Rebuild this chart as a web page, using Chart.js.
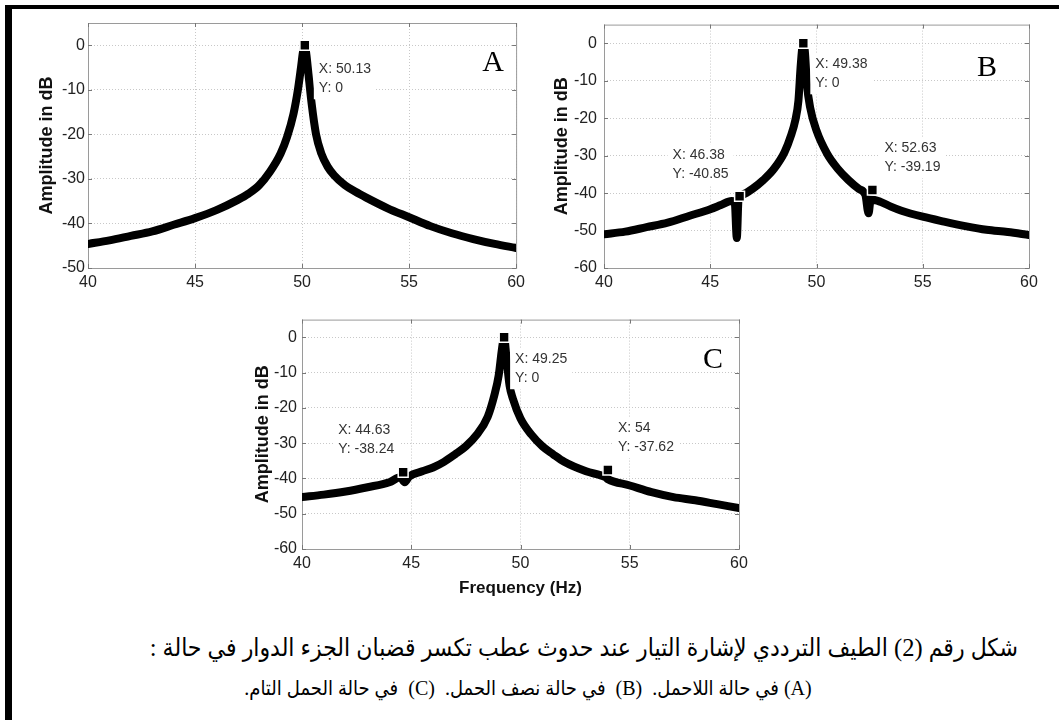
<!DOCTYPE html>
<html>
<head>
<meta charset="utf-8">
<script src="https://cdn.jsdelivr.net/npm/chart.js@4.4.0/dist/chart.umd.min.js"></script>
<style>
  body { margin: 0; background: #fff; width: 1059px; height: 720px; position: relative; overflow: hidden; }
  .frame { position: absolute; left: 5px; top: 5px; right: 0; bottom: 0; border-left: 7px solid #000; border-top: 4px solid #000; }
  canvas { position: absolute; }
  .cap { position: absolute; font-family: 'Liberation Serif', 'DejaVu Sans Condensed', 'DejaVu Sans', serif; direction: rtl; white-space: nowrap; color: #000; line-height: 30px; }
</style>
</head>
<body>
<div class="frame"></div>
<canvas id="chartA" width="512" height="300" style="left:18px;top:8px"></canvas>
<canvas id="chartB" width="515" height="300" style="left:534px;top:8px"></canvas>
<canvas id="chartC" width="522" height="300" style="left:232px;top:305px"></canvas>
<div class="cap" style="right:41px;top:633px;font-size:24.5px">شكل رقم (2) الطيف الترددي لإشارة التيار عند حدوث عطب تكسر قضبان الجزء الدوار في حالة :</div>
<div class="cap" style="left:0;width:1056px;text-align:center;top:673px;font-size:20px">(A) في حالة اللاحمل.&nbsp; (B)&nbsp; في حالة نصف الحمل.&nbsp; (C)&nbsp; في حالة الحمل التام.</div>

<script>
// shared axis ticks
const xTicks = [40, 45, 50, 55, 60];
const yTicksA = [0, -10, -20, -30, -40, -50];
const yTicksBC = [0, -10, -20, -30, -40, -50, -60];

// A : no load
const freqA = [40, 41, 42, 43, 44, 45, 46, 47, 47.5, 48, 48.5, 49, 49.3, 49.6, 49.8, 49.95, 50.05, 50.13, 50.2, 50.3, 50.45, 50.65, 50.9, 51.2, 51.5, 52, 52.5, 53, 54, 55, 56, 57, 58, 59, 60];
const ampA = [-44.6, -43.8, -42.8, -41.8, -40.3, -38.8, -37.0, -34.7, -33.3, -31.4, -28.4, -24.3, -20.6, -15.4, -10.2, -5, -1.3, 0, -2, -6.5, -13.2, -19.9, -24.3, -27.3, -29.2, -31.4, -32.9, -34.2, -36.6, -38.6, -40.6, -42.2, -43.5, -44.6, -45.5];
const tipFreqA = [50.13];
const tipAmpA = [0];

// B : half load
const freqB = [40, 41, 42, 43, 44, 45, 45.5, 46, 46.15, 46.25, 46.33, 46.5, 47, 47.5, 48, 48.5, 48.8, 49, 49.15, 49.25, 49.33, 49.38, 49.45, 49.55, 49.7, 50, 50.5, 51, 51.5, 52, 52.3, 52.45, 52.55, 53, 53.5, 54, 55, 56, 57, 58, 59, 60];
const ampB = [-51, -50.3, -49.1, -47.9, -46.1, -44.3, -43.2, -42.1, -42.3, -52, -41.9, -40.5, -38.8, -36.5, -33.5, -29, -24.6, -20.6, -15.3, -6.5, -1.2, 0, -2, -10.9, -17.1, -23.3, -29.5, -33.5, -36.5, -38.9, -40.5, -45.4, -41.7, -42.3, -43.6, -44.7, -46.3, -47.6, -48.8, -49.8, -50.4, -51.2];
const tipFreqB = [49.38, 46.38, 52.63];
const tipAmpB = [0, -40.85, -39.19];

// C : full load
const freqC = [40, 41, 42, 43, 44, 44.5, 44.7, 44.9, 45.5, 46, 46.5, 47, 47.5, 48, 48.5, 48.8, 49, 49.15, 49.25, 49.35, 49.5, 49.65, 50, 50.5, 51, 51.5, 52, 53, 53.9, 54, 55, 56, 57, 58, 59, 60];
const ampC = [-45.3, -44.6, -43.7, -42.5, -41.1, -39.7, -41.1, -39.5, -38, -36.9, -35.3, -33.2, -30.9, -27.6, -22.5, -16.5, -10.9, -3.4, 0, -5.3, -13.7, -17.4, -23, -27.6, -30.9, -33.2, -35.3, -38, -39.7, -40.2, -42, -43.9, -45.3, -46.2, -47.3, -48.4];
const tipFreqC = [49.25, 44.63, 54];
const tipAmpC = [0, -38.24, -37.62];

const sans = "'Liberation Sans', Arial, sans-serif";

// box, inward ticks, data tips and panel letter
const panelPlugin = {
  id: 'panel',
  beforeDatasetsDraw(chart) {
    const { ctx, chartArea: a, scales } = chart;
    ctx.save();
    ctx.strokeStyle = '#9a9a9a';
    ctx.lineWidth = 1;
    ctx.strokeRect(a.left + 0.5, a.top + 0.5, a.right - a.left, a.bottom - a.top);
    ctx.strokeStyle = '#777';
    ctx.beginPath();
    scales.x.ticks.forEach(t => {
      const px = Math.round(scales.x.getPixelForValue(t.value)) + 0.5;
      ctx.moveTo(px, a.bottom); ctx.lineTo(px, a.bottom - 4);
      ctx.moveTo(px, a.top); ctx.lineTo(px, a.top + 4);
    });
    scales.y.ticks.forEach(t => {
      const py = Math.round(scales.y.getPixelForValue(t.value)) + 0.5;
      ctx.moveTo(a.left, py); ctx.lineTo(a.left + 4, py);
      ctx.moveTo(a.right, py); ctx.lineTo(a.right - 4, py);
    });
    ctx.stroke();
    ctx.restore();
  },
  afterDraw(chart, args, opts) {
    const { ctx, chartArea: a } = chart;
    const meta = chart.getDatasetMeta(0);
    const pts = chart.data.datasets[0].data;
    ctx.save();
    ctx.font = "14px " + sans;
    ctx.textBaseline = 'middle';
    ctx.textAlign = 'left';
    meta.data.forEach((el, i) => {
      const [dx, dy] = opts.tips[i];
      const l1 = 'X: ' + pts[i].x, l2 = 'Y: ' + pts[i].y;
      const tx = el.x + dx, ty = el.y + dy;
      const w = Math.max(ctx.measureText(l1).width, ctx.measureText(l2).width);
      ctx.fillStyle = '#fff';
      ctx.fillRect(tx - 5, ty - 11, w + 10, 41);
      ctx.fillStyle = '#333';
      ctx.fillText(l1, tx, ty);
      ctx.fillText(l2, tx, ty + 19);
    });
    ctx.font = "30px 'Liberation Serif', 'Times New Roman', serif";
    ctx.fillStyle = '#000';
    ctx.textAlign = 'center';
    ctx.textBaseline = 'alphabetic';
    ctx.fillText(opts.letter, a.right + opts.letterDx, a.top + opts.letterDy);
    ctx.restore();
  }
};

function makeChart(id, o) {
  return new Chart(document.getElementById(id), {
    type: 'scatter',
    data: {
      datasets: [
        {
          data: o.tipX.map((x, i) => ({ x: x, y: o.tipY[i] })),
          pointStyle: 'rect',
          pointRadius: 7,
          pointHoverRadius: 7,
          pointBackgroundColor: '#000',
          pointBorderColor: '#fff',
          pointBorderWidth: 1.5,
          showLine: false
        },
        {
          data: o.freq.map((x, i) => ({ x: x, y: o.amp[i] })),
          showLine: true,
          borderColor: '#000',
          borderWidth: 8,
          pointRadius: 0,
          cubicInterpolationMode: 'monotone',
          borderJoinStyle: 'round',
          borderCapStyle: 'round'
        }
      ]
    },
    options: {
      responsive: false,
      animation: false,
      devicePixelRatio: 1,
      events: [],
      layout: { padding: { top: o.padTop, right: o.padRight, left: 0, bottom: 0 } },
      plugins: {
        legend: { display: false },
        tooltip: { enabled: false },
        panel: { letter: o.letter, letterDx: o.letterDx, letterDy: o.letterDy, tips: o.tips }
      },
      scales: {
        x: {
          type: 'linear', min: 40, max: 60,
          afterBuildTicks: s => { s.ticks = xTicks.map(v => ({ value: v })); },
          afterFit: s => { s.height = o.xHeight; },
          grid: { color: '#c8c8c8', drawTicks: false },
          border: { display: false, dash: [1, 2] },
          ticks: { padding: 5, color: '#222', maxRotation: 0, font: { family: sans, size: 16 } },
          title: o.xTitle
            ? { display: true, text: o.xTitle, color: '#111', font: { family: sans, size: 17, weight: 'bold' }, padding: { top: 0, bottom: 6 } }
            : { display: false }
        },
        y: {
          type: 'linear', min: o.yTicks[o.yTicks.length - 1], max: 5,
          afterBuildTicks: s => { s.ticks = o.yTicks.map(v => ({ value: v })); },
          afterFit: s => { s.width = 70; },
          grid: { color: '#c8c8c8', drawTicks: false },
          border: { display: false, dash: [1, 2] },
          ticks: { padding: o.yPad, color: '#222', font: { family: sans, size: 16 } },
          title: { display: true, text: 'Amplitude in dB', color: '#111', font: { family: sans, size: 18, weight: 'bold' }, padding: { top: o.titlePad, bottom: 0 } }
        }
      }
    },
    plugins: [panelPlugin]
  });
}

makeChart('chartA', {
  freq: freqA, amp: ampA, tipX: tipFreqA, tipY: tipAmpA, yTicks: yTicksA,
  padTop: 15, padRight: 13, xHeight: 40, yPad: 3, titlePad: 18,
  letter: 'A', letterDx: -23, letterDy: 48, tips: [[14, 24]]
});
makeChart('chartB', {
  freq: freqB, amp: ampB, tipX: tipFreqB, tipY: tipAmpB, yTicks: yTicksBC,
  padTop: 16, padRight: 20, xHeight: 40, yPad: 7, titlePad: 17,
  letter: 'B', letterDx: -42, letterDy: 51, tips: [[12, 21], [-67, -41], [12, -42]]
});
makeChart('chartC', {
  freq: freqC, amp: ampC, tipX: tipFreqC, tipY: tipAmpC, yTicks: yTicksBC,
  padTop: 12, padRight: 15, xHeight: 56, yPad: 5, titlePad: 20, xTitle: 'Frequency (Hz)',
  letter: 'C', letterDx: -26, letterDy: 48, tips: [[11, 22], [-65, -42], [10, -42]]
});
</script>
</body>
</html>
